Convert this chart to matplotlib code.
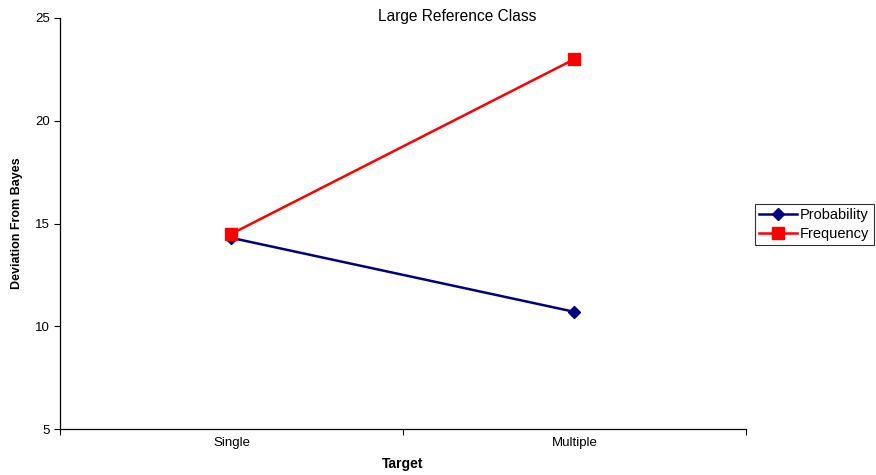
import matplotlib
matplotlib.use("Agg")
import matplotlib.pyplot as plt

plt.rcParams['font.family'] = ['Liberation Sans', 'DejaVu Sans']

categories = ["Single", "Multiple"]
probability = [14.3, 10.7]
frequency = [14.5, 23.0]
yticks = [5, 10, 15, 20, 25]

fig = plt.figure(figsize=(8.76, 4.75), dpi=100)
ax = fig.add_axes([60 / 876, 46 / 475, 686 / 876, 411 / 475])

xpos = [i + 0.5 for i in range(len(categories))]
ax.plot(xpos, probability, color="#000080", lw=1.8, marker="D", ms=6,
        label="Probability", zorder=3)
ax.plot(xpos, frequency, color="#ff0000", lw=1.8, marker="s", ms=8,
        label="Frequency", zorder=3)

ax.set_xlim(0, len(categories))
ax.set_ylim(5, 25)
ax.set_yticks(yticks)
ax.set_xticks(range(len(categories) + 1))
ax.set_xticklabels([])
ax.set_xticks(xpos, minor=True)
ax.set_xticklabels(categories, minor=True)
ax.tick_params(axis="x", which="minor", length=0, pad=6, labelsize=9.5)
ax.tick_params(axis="x", which="major", direction="out", length=4, width=0.8)
ax.tick_params(axis="y", direction="out", length=4, width=0.8, labelsize=9.5)

for s in ("top", "right"):
    ax.spines[s].set_visible(False)
for s in ("left", "bottom"):
    ax.spines[s].set_linewidth(0.9)

fig.text(457 / 876, 1 - 17 / 475, "Large Reference Class", fontsize=11.2,
         ha="center", va="center")
fig.text(403 / 876, 1 - 464 / 475, "Target", fontsize=10, fontweight="bold",
         ha="center", va="center")
fig.text(17 / 876, 1 - 223 / 475, "Deviation From Bayes", fontsize=9,
         fontweight="bold", ha="center", va="center", rotation=90)

leg = ax.legend(loc="center left", bbox_to_anchor=(1.013, 0.498), fontsize=10.5,
                frameon=True, fancybox=False, edgecolor="black",
                handlelength=2.6, borderpad=0.3, labelspacing=0.32,
                handletextpad=0.2, borderaxespad=0)
leg.get_frame().set_linewidth(0.8)

fig.savefig("out.png", dpi=100)
